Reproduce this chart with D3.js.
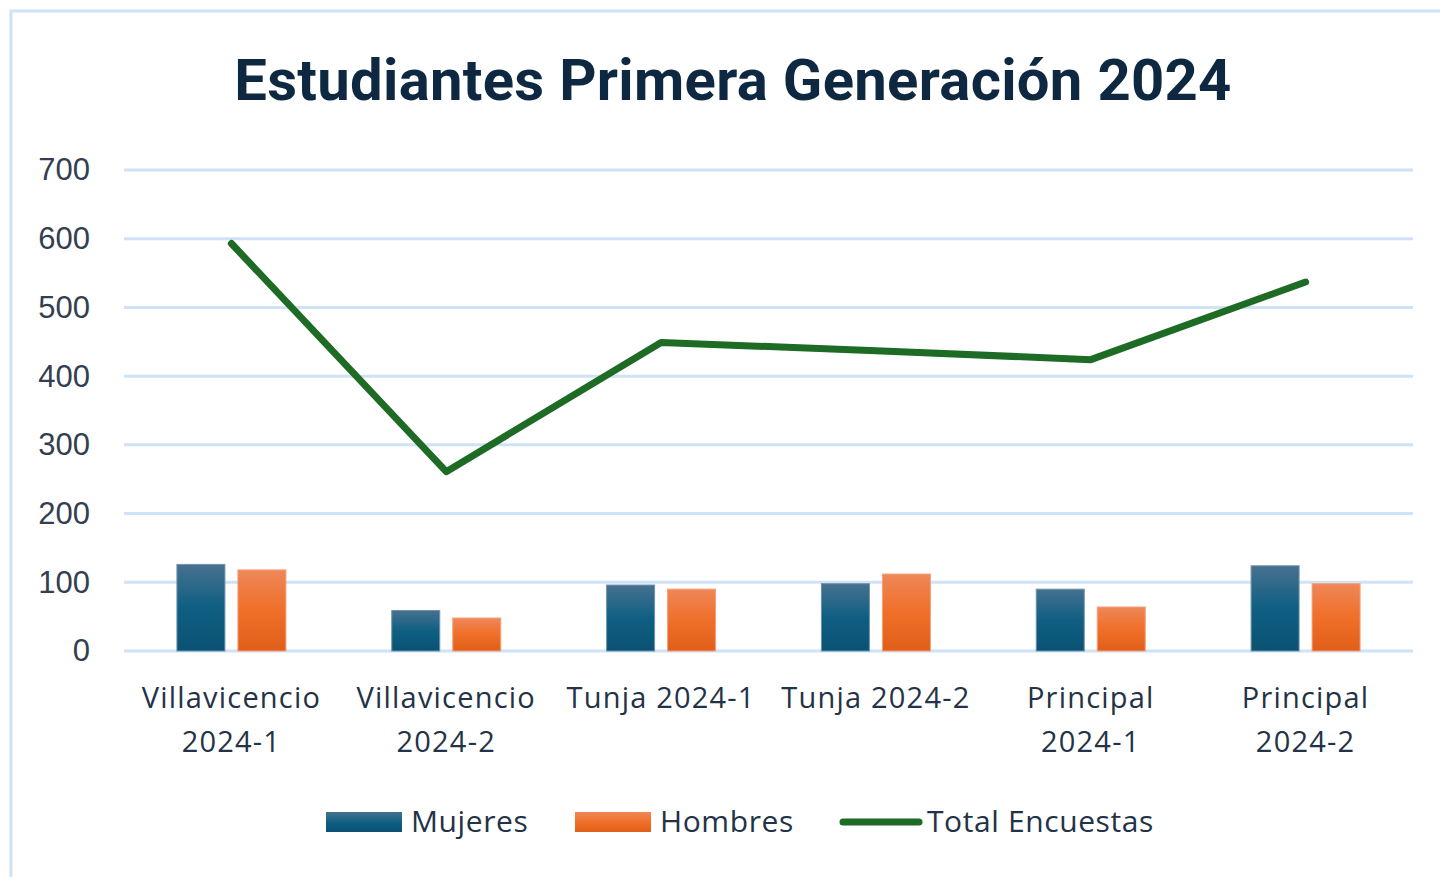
<!DOCTYPE html>
<html>
<head>
<meta charset="utf-8">
<script src="https://cdn.jsdelivr.net/npm/d3@7"></script>
<style>
  html, body { margin: 0; padding: 0; background: #fff; }
  svg { display: block; }
</style>
</head>
<body>
<script>
var categories = ['Villavicencio 2024-1', 'Villavicencio 2024-2', 'Tunja 2024-1', 'Tunja 2024-2', 'Principal 2024-1', 'Principal 2024-2'];
var mujeres = [126, 59, 96, 98, 90, 124];
var hombres = [118, 48, 90, 112, 64, 98];
var totalEncuestas = [593, 261, 449, 437, 424, 537];
var yTicks = [0, 100, 200, 300, 400, 500, 600, 700];
var seriesNames = ['Mujeres', 'Hombres', 'Total Encuestas'];

var width = 1440;
var height = 877;
var margin = { left: 124, right: 27, top: 170, bottom: 226 };

var svg = d3.select('body').append('svg')
  .attr('width', width)
  .attr('height', height);

// gradients for bars
var defs = svg.append('defs');
var grad = function(id, stops) {
  var g = defs.append('linearGradient').attr('id', id)
    .attr('x1', 0).attr('y1', 0).attr('x2', 0).attr('y2', 1);
  stops.forEach(function(s) {
    g.append('stop').attr('offset', s[0]).attr('stop-color', s[1]);
  });
};
grad('gM', [[0, '#47718f'], [0.5, '#0f5f83'], [1, '#0a5274']]);
grad('gH', [[0, '#ee8758'], [0.5, '#f06f29'], [1, '#df5e19']]);

// chart border
svg.append('rect')
  .attr('x', 11).attr('y', 11)
  .attr('width', width + 20).attr('height', height + 20)
  .attr('fill', 'none')
  .attr('stroke', '#d0e2f6')
  .attr('stroke-width', 3);

// title
svg.append('text')
  .attr('x', 733).attr('y', 100)
  .attr('text-anchor', 'middle')
  .attr('font-family', 'Roboto, sans-serif')
  .attr('font-weight', 'bold')
  .attr('font-size', 58)
  .attr('letter-spacing', 0.3)
  .attr('fill', '#0e2841')
  .text('Estudiantes Primera Generación 2024');

var x = d3.scaleBand()
  .domain(categories)
  .range([margin.left, width - margin.right]);

var y = d3.scaleLinear()
  .domain([0, 700])
  .range([height - margin.bottom, margin.top]);

// gridlines
svg.append('g').selectAll('line').data(yTicks).enter()
  .append('line')
  .attr('x1', margin.left).attr('x2', width - margin.right)
  .attr('y1', function(d) { return y(d); })
  .attr('y2', function(d) { return y(d); })
  .attr('stroke', '#d0e2f6')
  .attr('stroke-width', 3);

// y axis labels
var yAxis = d3.axisLeft(y).tickValues(yTicks).tickSize(0).tickPadding(34);
var gy = svg.append('g')
  .attr('transform', 'translate(' + margin.left + ',0)')
  .call(yAxis);
gy.select('.domain').remove();
gy.selectAll('text')
  .attr('font-family', '"Liberation Sans", Arial, sans-serif')
  .attr('font-size', 31)
  .attr('fill', '#333f50');

// bars
var barW = 48;
var gap = 13;
var groups = svg.append('g').selectAll('g').data(categories).enter()
  .append('g');

groups.append('rect')
  .attr('x', function(d) { return x(d) + x.bandwidth() / 2 - gap / 2 - barW; })
  .attr('y', function(d, i) { return y(mujeres[i]); })
  .attr('width', barW)
  .attr('height', function(d, i) { return y(0) - y(mujeres[i]); })
  .attr('fill', 'url(#gM)')
  .attr('stroke', '#6f93ac')
  .attr('stroke-width', 1);

groups.append('rect')
  .attr('x', function(d) { return x(d) + x.bandwidth() / 2 + gap / 2; })
  .attr('y', function(d, i) { return y(hombres[i]); })
  .attr('width', barW)
  .attr('height', function(d, i) { return y(0) - y(hombres[i]); })
  .attr('fill', 'url(#gH)')
  .attr('stroke', '#f5a07a')
  .attr('stroke-width', 1);

// total line
var line = d3.line()
  .x(function(d, i) { return x(categories[i]) + x.bandwidth() / 2; })
  .y(function(d) { return y(d); });

svg.append('path')
  .datum(totalEncuestas)
  .attr('d', line)
  .attr('fill', 'none')
  .attr('stroke', '#1d6b24')
  .attr('stroke-width', 7)
  .attr('stroke-linecap', 'round')
  .attr('stroke-linejoin', 'round');

// x labels, wrapped to band width
var xg = svg.append('g');
categories.forEach(function(c) {
  var t = xg.append('text')
    .attr('x', x(c) + x.bandwidth() / 2)
    .attr('y', 708)
    .attr('text-anchor', 'middle')
    .attr('font-family', '"Open Sans", sans-serif')
    .attr('font-size', 29)
    .attr('letter-spacing', 1.2)
    .attr('fill', '#233246')
    .text(c);
  if (t.node().getComputedTextLength() > x.bandwidth() - 6) {
    var parts = c.split(' ');
    var last = parts.pop();
    t.text(null);
    t.append('tspan').attr('x', x(c) + x.bandwidth() / 2).text(parts.join(' '));
    t.append('tspan').attr('x', x(c) + x.bandwidth() / 2).attr('dy', 44).text(last);
  }
});

// legend
var legendY = 822;
var leg = svg.append('g');
var legendItems = [
  { name: seriesNames[0], x: 326, type: 'bar', fill: 'url(#gM)' },
  { name: seriesNames[1], x: 575, type: 'bar', fill: 'url(#gH)' },
  { name: seriesNames[2], x: 843, type: 'line' }
];
legendItems.forEach(function(it) {
  if (it.type === 'bar') {
    leg.append('rect')
      .attr('x', it.x).attr('y', legendY - 10)
      .attr('width', 76).attr('height', 20)
      .attr('fill', it.fill);
  } else {
    leg.append('line')
      .attr('x1', it.x).attr('x2', it.x + 76)
      .attr('y1', legendY).attr('y2', legendY)
      .attr('stroke', '#1d6b24')
      .attr('stroke-width', 7)
      .attr('stroke-linecap', 'round');
  }
  leg.append('text')
    .attr('x', it.x + (it.type === 'bar' ? 85 : 84)).attr('y', legendY + 10)
    .attr('font-family', '"Open Sans", sans-serif')
    .attr('font-size', 30)
    .attr('letter-spacing', 0.6)
    .attr('fill', '#233246')
    .text(it.name);
});
</script>
</body>
</html>
